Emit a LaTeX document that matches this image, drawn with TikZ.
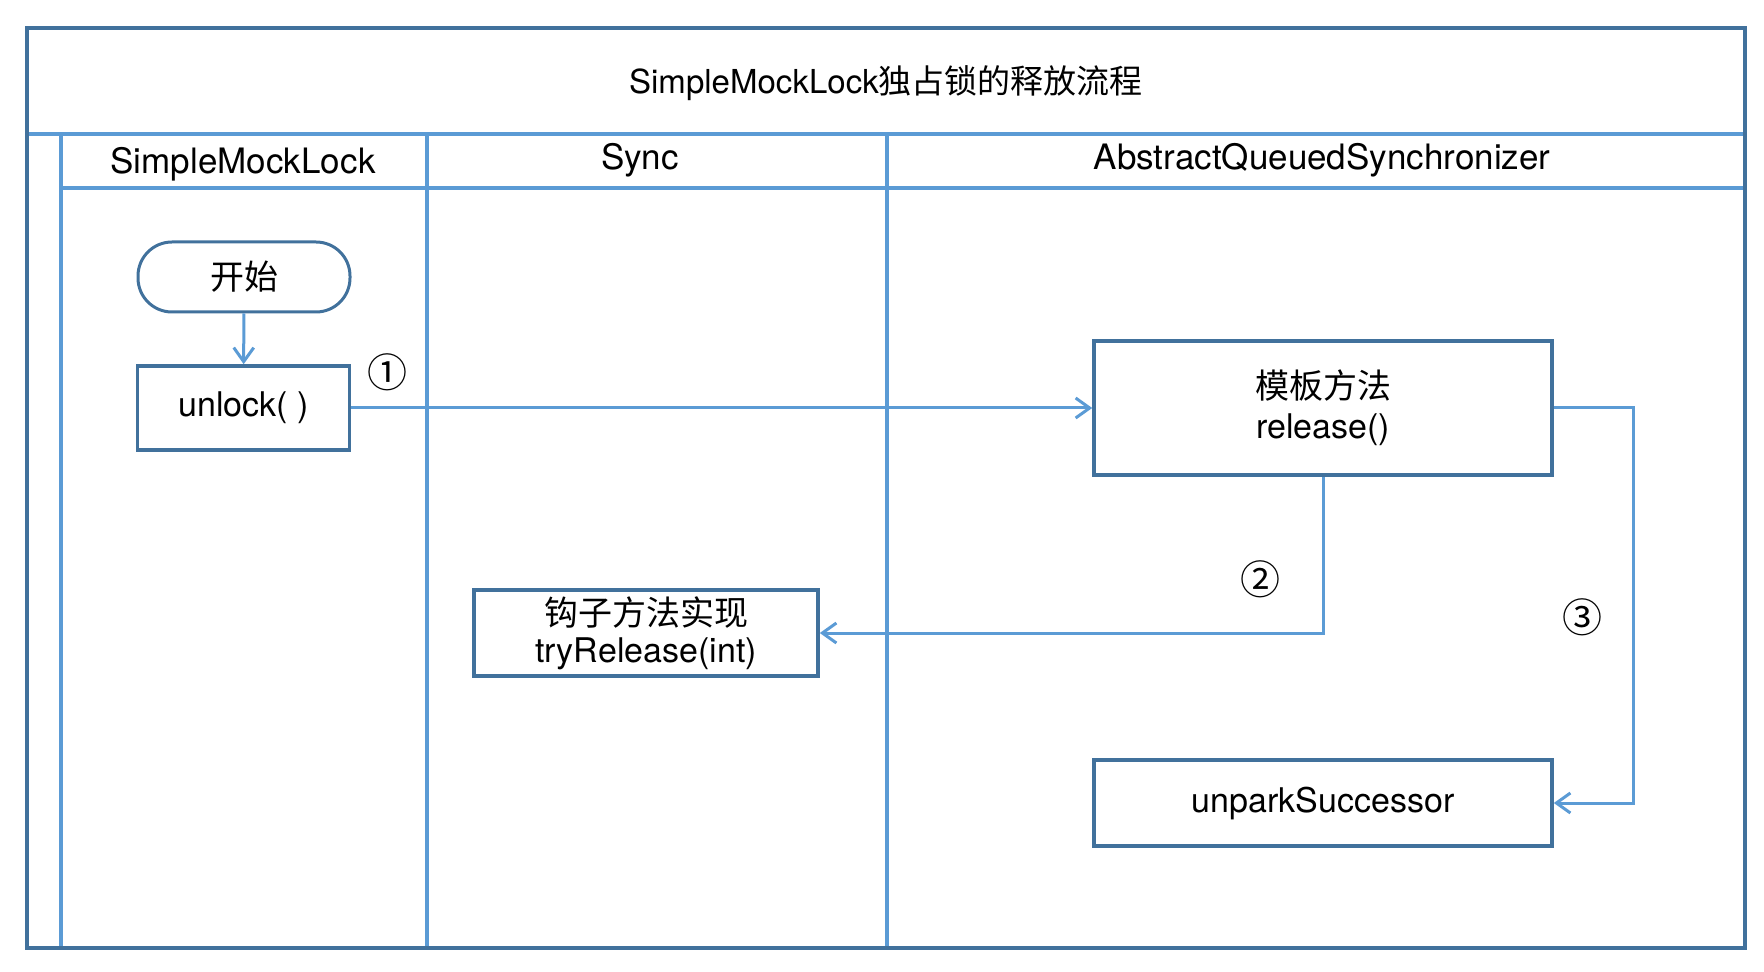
\documentclass[tikz,border=0pt]{standalone}
\usepackage{fontspec}
\setmainfont{TeX Gyre Heros}
\newfontfamily\cjk{Noto Sans CJK SC}
\usetikzlibrary{arrows.meta}
\usepackage{xcolor}
\definecolor{b1}{HTML}{41719C}
\definecolor{b2}{HTML}{5B9BD5}

\begin{document}
\begin{tikzpicture} [x = 0.5pt, y = -0.5pt, font = \fontsize{17}{20}\selectfont,
	box/.style = {draw = b1, line width = 1.8pt, inner sep = 0pt, align = center},
	arr/.style = {draw = b2, line width = 1.5pt,
		-{Straight Barb[length = 7pt, width = 10pt, line width = 1.5pt]}},
	lane/.style = {draw = b2, line width = 2pt}]
\useasboundingbox (0,0) rectangle (1764,972);

% lanes:
\draw [lane] (27,134) -- (1745,134);
\draw [lane] (61,188) -- (1745,188);
\draw [lane] (61,134) -- (61,948);
\draw [lane] (427,134) -- (427,948);
\draw [lane] (887,134) -- (887,948);
\draw [draw = b1, line width = 2pt] (27,28) rectangle (1745,948);

% titles:
\node [font = \fontsize{16.5}{19}\selectfont] (title) at (886,83)
	{SimpleMockLock{\cjk 独占锁的释放流程}};
\node [font = \fontsize{17.5}{20}\selectfont] (h1) at (243,164) {SimpleMockLock};
\node [font = \fontsize{17.5}{20}\selectfont] (h2) at (640,160) {Sync};
\node [font = \fontsize{17.5}{20}\selectfont] (h3) at (1322,160) {AbstractQueuedSynchronizer};

% steps:
\node [box, rounded corners = 17pt, line width = 1.5pt,
	minimum width = 106pt, minimum height = 35pt] (start) at (244,277) {\cjk 开始};
\node [box, minimum width = 106pt, minimum height = 42pt] (unlock) at (243.5,408) {unlock( )};
\node [box, minimum width = 229pt, minimum height = 67pt] (release) at (1323,408)
	{{\cjk 模板方法}\\release()};
\node [box, minimum width = 172pt, minimum height = 43pt,
	font = \fontsize{17}{18.5}\selectfont] (tryrel) at (646,633)
	{{\cjk 钩子方法实现}\\tryRelease(int)};
\node [box, minimum width = 229pt, minimum height = 43pt] (unpark) at (1323,803) {unparkSuccessor};

% numbers:
\node [font = \fontsize{20}{20}\selectfont] (n1) at (387,372) {\cjk ①};
\node [font = \fontsize{20}{20}\selectfont] (n2) at (1260,579) {\cjk ②};
\node [font = \fontsize{20}{20}\selectfont] (n3) at (1582,617) {\cjk ③};

% arrows:
\draw [arr] (start) -- (unlock);
\draw [arr] (unlock.east) -- (unlock.east -| release.west);
\draw [arr] (release.south) |- (tryrel.east);
\draw [arr] (release.east) -- ++(80,0) |- (unpark.east);
\end{tikzpicture}
\end{document}
